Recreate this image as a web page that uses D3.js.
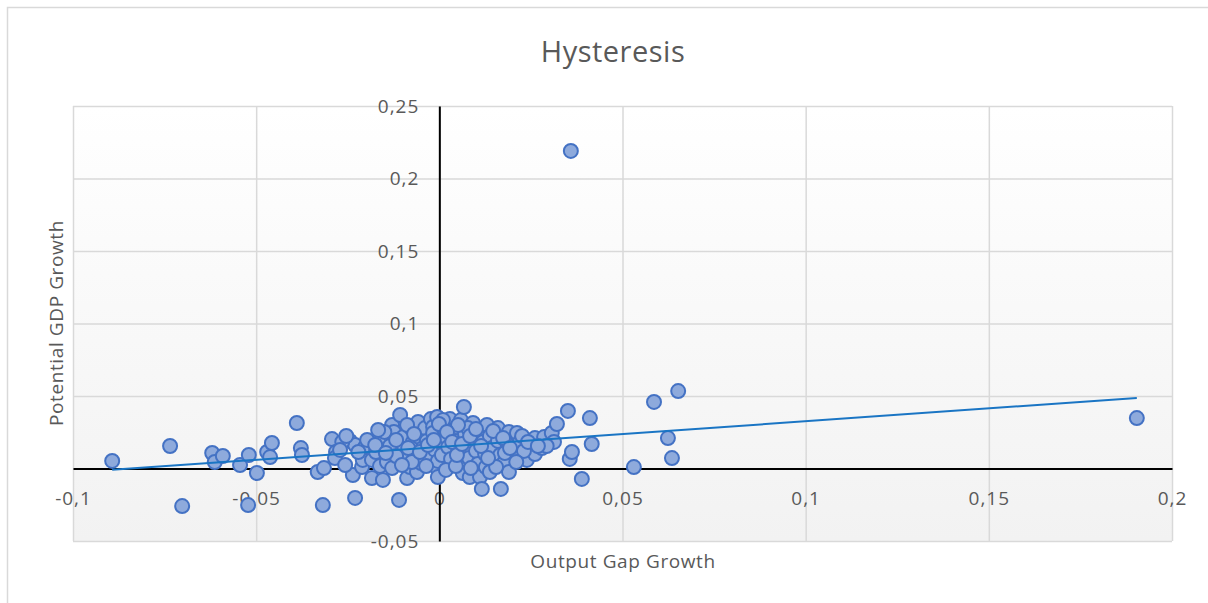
<!DOCTYPE html>
<html>
  <head>
    <meta charset="utf-8">
    <title>Hysteresis</title>
    <script src="https://d3js.org/d3.v7.min.js"></script>
    <style>
      body { margin: 0; background: #fff; }
      svg { font-family: "Open Sans", sans-serif; }
      .tick text { fill: #595959; font-size: 19px; letter-spacing: 1px; }
      .grid line { stroke: #d9d9d9; stroke-width: 1.5; }
      .grid path { display: none; }
    </style>
  </head>
  <body>
    <svg id="chart" width="1208" height="603"></svg>
    <script>
      // data
      var outputGap = [
        -0.0893, -0.0735, -0.0702, -0.0620, -0.0613, -0.0591, -0.0544, -0.0520, -0.0522, -0.0498,
        -0.0470, -0.0462, -0.0457, -0.0389, -0.0378, -0.0375, -0.0332, -0.0318, -0.0315, -0.0293,
        -0.0282, -0.0285, -0.0244, -0.0230, -0.0236, -0.0230, -0.0211, -0.0209, -0.0203, -0.0184,
        -0.0184, -0.0162, -0.0157, -0.0154, -0.0143, -0.0129, -0.0129, -0.0110, -0.0107, -0.0135,
        -0.0124, -0.0099, -0.0096, -0.0091, -0.0088, -0.0080, -0.0077, -0.0072, -0.0066, -0.0061,
        -0.0058, -0.0055, -0.0050, -0.0045, -0.0039, -0.0034, -0.0028, -0.0023, -0.0017, -0.0017,
        -0.0012, -0.0006, -0.0006, -0.0004, -0.0004, 0.0002, 0.0007, 0.0013, 0.0018, 0.0024,
        0.0029, 0.0032, 0.0040, 0.0045, 0.0051, 0.0056, 0.0059, 0.0064, 0.0067, 0.0070,
        0.0075, 0.0081, 0.0083, 0.0092, 0.0094, 0.0100, 0.0105, 0.0111, 0.0111, 0.0116,
        0.0119, 0.0125, 0.0127, 0.0130, 0.0138, 0.0144, 0.0149, 0.0160, 0.0160, 0.0166,
        0.0168, 0.0176, 0.0190, 0.0187, 0.0190, 0.0212, 0.0204, 0.0215, 0.0220, 0.0239,
        0.0247, 0.0261, 0.0261, 0.0280, 0.0286, 0.0307, 0.0313, 0.0321, 0.0351, 0.0359,
        0.0356, 0.0362, 0.0389, 0.0411, 0.0416, 0.0531, 0.0586, 0.0624, 0.0635, 0.0652,
        0.1904, -0.0257, -0.0173, -0.0118, -0.0075, -0.0036, 0.0018, 0.0045, 0.0086, 0.0138,
        0.0155, 0.0179, 0.0231, 0.0293, 0.0010, 0.0078, 0.0051, -0.0088, -0.0150, -0.0265,
        -0.0271, -0.0254, -0.0221, -0.0197, -0.0175, -0.0167, -0.0146, -0.0118, -0.0102, -0.0085,
        -0.0069, -0.0053, -0.0031, -0.0015, -0.0001, 0.0021, 0.0035, 0.0048, 0.0062, 0.0084,
        0.0100, 0.0114, 0.0133, 0.0147, 0.0174, 0.0193, 0.0210, 0.0226, 0.0242, 0.0269
      ];
      var potentialGdp = [
        0.0052, 0.0155, -0.0259, 0.0107, 0.0045, 0.0086, 0.0024, 0.0093, -0.0252, -0.0031,
        0.0114, 0.0079, 0.0176, 0.0314, 0.0141, 0.0093, -0.0024, -0.0252, 0.0003, 0.0203,
        0.0114, 0.0072, 0.0190, 0.0162, -0.0045, -0.0203, 0.0010, 0.0059, 0.0148, 0.0059,
        -0.0066, 0.0017, 0.0203, -0.0079, 0.0045, 0.0003, 0.0300, -0.0217, 0.0369, 0.0155,
        0.0252, 0.0217, 0.0134, 0.0072, -0.0066, 0.0010, 0.0279, 0.0183, 0.0093, -0.0024,
        0.0321, 0.0217, 0.0038, 0.0141, 0.0279, 0.0190, 0.0086, 0.0341, 0.0286, 0.0245,
        0.0128, 0.0355, 0.0003, -0.0059, 0.0052, 0.0183, 0.0093, 0.0272, 0.0217, 0.0148,
        0.0341, 0.0066, 0.0266, 0.0190, 0.0114, 0.0031, 0.0334, -0.0031, 0.0424, 0.0238,
        0.0155, 0.0072, -0.0059, 0.0314, 0.0203, 0.0121, 0.0031, 0.0266, -0.0059, -0.0141,
        0.0183, 0.0100, 0.0010, 0.0300, 0.0224, 0.0141, 0.0059, 0.0279, 0.0190, 0.0093,
        -0.0141, 0.0038, 0.0252, 0.0162, -0.0024, 0.0245, 0.0114, 0.0072, 0.0183, 0.0059,
        0.0141, 0.0210, 0.0100, 0.0141, 0.0217, 0.0245, 0.0183, 0.0307, 0.0397, 0.2190,
        0.0066, 0.0114, -0.0072, 0.0348, 0.0169, 0.0010, 0.0459, 0.0210, 0.0072, 0.0534,
        0.0348, 0.0024, 0.0114, 0.0086, 0.0045, 0.0017, -0.0010, 0.0017, 0.0003, -0.0024,
        0.0010, 0.0107, 0.0121, 0.0155, 0.0334, 0.0279, 0.0300, 0.0300, 0.0252, 0.0183,
        0.0128, 0.0224, 0.0114, 0.0197, 0.0162, 0.0266, 0.0107, 0.0197, 0.0024, 0.0141,
        0.0238, 0.0114, 0.0162, 0.0197, 0.0307, 0.0252, 0.0183, 0.0093, 0.0169, 0.0224,
        0.0272, 0.0155, 0.0072, 0.0259, 0.0210, 0.0141, 0.0045, 0.0224, 0.0183, 0.0155
      ];
      // linear trendline as shown on the chart
      var trendSlope = 0.177;
      var trendIntercept = 0.0149;
      var xTicks = [-0.1, -0.05, 0, 0.05, 0.1, 0.15, 0.2];
      var yTicks = [-0.05, 0, 0.05, 0.1, 0.15, 0.2, 0.25];

      var points = outputGap.map(function(d, i) { return [d, potentialGdp[i]]; });
      var svg = d3.select("#chart");
      var margin = { top: 106, right: 36, bottom: 62, left: 73 };
      var width = 1208 - margin.left - margin.right;
      var height = 603 - margin.top - margin.bottom;
      var comma = function(d) { return String(d).replace(".", ","); };

      // chart area border
      svg.append("rect")
        .attr("x", 7.5).attr("y", 7.5)
        .attr("width", 1220).attr("height", 620)
        .attr("fill", "#fff")
        .attr("stroke", "#d9d9d9")
        .attr("stroke-width", 1.5);

      var defs = svg.append("defs");
      var grad = defs.append("linearGradient")
        .attr("id", "plotFill")
        .attr("x1", "0%").attr("x2", "0%").attr("y1", "0%").attr("y2", "100%");
      grad.append("stop").attr("offset", "0%").attr("stop-color", "#ffffff");
      grad.append("stop").attr("offset", "100%").attr("stop-color", "#f2f2f2");

      var g = svg.append("g")
        .attr("transform", "translate(" + margin.left + "," + margin.top + ")");

      var x = d3.scaleLinear().domain([-0.1, 0.2]).range([0, width]);
      var y = d3.scaleLinear().domain([-0.05, 0.25]).range([height, 0]);

      g.append("rect")
        .attr("width", width)
        .attr("height", height)
        .attr("fill", "url(#plotFill)");

      // gridlines
      g.append("g")
        .attr("class", "grid")
        .call(d3.axisBottom(x).tickValues(xTicks).tickSize(height).tickFormat(""));
      g.append("g")
        .attr("class", "grid")
        .call(d3.axisLeft(y).tickValues(yTicks).tickSize(-width).tickFormat(""));

      // axes crossing at zero
      var xAxis = g.append("g")
        .attr("transform", "translate(0," + y(0) + ")")
        .call(d3.axisBottom(x).tickValues(xTicks).tickSize(0).tickPadding(23).tickFormat(comma));
      var yAxis = g.append("g")
        .attr("transform", "translate(" + x(0) + ",0)")
        .call(d3.axisLeft(y).tickValues(yTicks).tickSize(0).tickPadding(20).tickFormat(comma));
      [xAxis, yAxis].forEach(function(a) {
        a.select(".domain").attr("stroke", "#000").attr("stroke-width", 2);
        a.attr("font-family", null).attr("font-size", null);
      });

      var ext = d3.extent(outputGap);

      // markers
      g.append("g")
        .selectAll("circle")
        .data(points)
        .enter().append("circle")
          .attr("cx", function(d) { return x(d[0]); })
          .attr("cy", function(d) { return y(d[1]); })
          .attr("r", 7)
          .attr("fill", "#8eaadc")
          .attr("stroke", "#4472c4")
          .attr("stroke-width", 2);

      // trendline on top of the markers
      g.append("line")
        .attr("x1", x(ext[0]))
        .attr("y1", y(trendSlope * ext[0] + trendIntercept))
        .attr("x2", x(ext[1]))
        .attr("y2", y(trendSlope * ext[1] + trendIntercept))
        .attr("stroke", "#1a75c4")
        .attr("stroke-width", 2);

      // titles
      svg.append("text")
        .attr("x", 613).attr("y", 62)
        .attr("text-anchor", "middle")
        .attr("fill", "#595959")
        .attr("font-size", 29)
        .attr("letter-spacing", 0.5)
        .text("Hysteresis");
      svg.append("text")
        .attr("x", 623).attr("y", 568)
        .attr("text-anchor", "middle")
        .attr("fill", "#595959")
        .attr("font-size", 19)
        .attr("letter-spacing", 0.6)
        .text("Output Gap Growth");
      svg.append("text")
        .attr("transform", "translate(63,323) rotate(-90)")
        .attr("text-anchor", "middle")
        .attr("fill", "#595959")
        .attr("font-size", 19)
        .attr("letter-spacing", 0.6)
        .text("Potential GDP Growth");
    </script>
  </body>
</html>
